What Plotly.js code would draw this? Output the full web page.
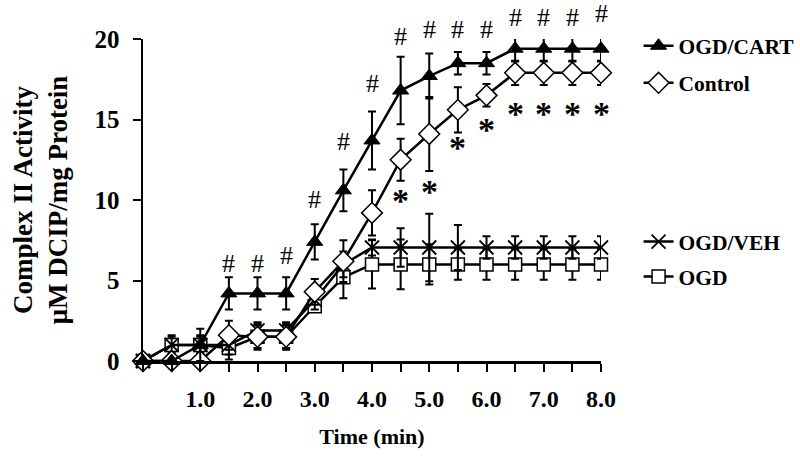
<!DOCTYPE html>
<html>
<head>
<meta charset="utf-8">
<script src="https://cdn.plot.ly/plotly-3.0.1.min.js"></script>
<style>html,body{margin:0;padding:0;background:#fff;}#chart{width:800px;height:461px;}</style>
</head>
<body>
<div id="chart"></div>
<script>
// Time points (min)
const times = [0, 0.5, 1, 1.5, 2, 2.5, 3, 3.5, 4, 4.5, 5, 5.5, 6, 6.5, 7, 7.5, 8];

// OGD/CART
const cartMean = [0, 0, 1.0, 4.2, 4.2, 4.2, 7.4, 10.6, 13.7, 16.8, 17.7, 18.5, 18.5, 19.4, 19.4, 19.4, 19.4];
const cartErr  = [0, 0, 1.0, 1.0, 1.0, 1.0, 1.1, 1.3, 1.8, 2.1, 1.4, 0.7, 0.7, 0.8, 0.8, 0.8, 0.8];

// Control
const ctrlMean = [0, 0, 0, 1.6, 1.5, 1.5, 4.3, 6.2, 9.2, 12.5, 14.1, 15.6, 16.5, 17.9, 17.9, 17.9, 17.9];
const ctrlErr  = [0, 0, 0, 0.9, 0.8, 0.8, 0.8, 1.3, 1.4, 1.3, 2.3, 1.4, 0.7, 0.75, 0.75, 0.75, 0.75];

// OGD/VEH
const vehMean = [0, 1.0, 1.0, 1.0, 1.9, 1.9, 3.8, 6.0, 7.05, 7.05, 7.05, 7.05, 7.05, 7.05, 7.05, 7.05, 7.05];
const vehErr  = [0, 0.6, 0.6, 0.6, 0.5, 0.5, 0.6, 0.8, 0.5, 1.2, 2.1, 1.4, 0.7, 0.7, 0.7, 0.7, 0.7];

// OGD
const ogdMean = [0, 1.0, 1.0, 0.8, 1.5, 1.5, 3.4, 5.2, 6.0, 6.0, 6.0, 6.0, 6.0, 6.0, 6.0, 6.0, 6.0];
const ogdErr  = [0, 0.5, 0.5, 0.7, 0.7, 0.7, 0.3, 1.3, 1.5, 1.55, 1.25, 0.95, 0.95, 0.95, 0.95, 0.95, 0.95];

// significance marks: '#' (OGD/CART) and '*' (Control), heights in data units
const hashTimes = [1.5, 2, 2.5, 3, 3.5, 4, 4.5, 5, 5.5, 6, 6.5, 7, 7.5, 8];
const hashY     = [6.0, 6.0, 6.5, 10.0, 13.55, 17.2, 20.1, 20.5, 20.5, 20.5, 21.3, 21.3, 21.3, 21.5];
const starTimes = [4.5, 5, 5.5, 6, 6.5, 7, 7.5, 8];
const starY     = [10.3, 10.85, 13.55, 14.7, 15.7, 15.7, 15.7, 15.7];

// axis ticks
const xTickVals = [0, 0.5, 1, 1.5, 2, 2.5, 3, 3.5, 4, 4.5, 5, 5.5, 6, 6.5, 7, 7.5, 8];
const xTickText = ["", "", "1.0", "", "2.0", "", "3.0", "", "4.0", "", "5.0", "", "6.0", "", "7.0", "", "8.0"];
const yTickVals = [0, 5, 10, 15, 20];
const yMax = 20;

const FONT = "Liberation Serif, Times New Roman, serif";

function errBar(arr) {
  return {type: 'data', array: arr, visible: true, color: '#000', thickness: 2, width: 4};
}

const traces = [
  {
    name: 'OGD', x: times, y: ogdMean, error_y: errBar(ogdErr),
    mode: 'lines+markers', cliponaxis: false, legend: 'legend4',
    line: {color: '#000', width: 2.5},
    marker: {symbol: 'square', size: 13, color: '#fff', line: {color: '#000', width: 1.5}}
  },
  {
    name: 'OGD/VEH', x: times, y: vehMean, error_y: errBar(vehErr),
    mode: 'lines+markers', cliponaxis: false, legend: 'legend3',
    line: {color: '#000', width: 2.5},
    marker: {symbol: 'x-thin', size: 14, color: '#000', line: {color: '#000', width: 1.8}}
  },
  {
    name: 'Control', x: times, y: ctrlMean, error_y: errBar(ctrlErr),
    mode: 'lines+markers', cliponaxis: false, legend: 'legend2',
    line: {color: '#000', width: 2.5},
    marker: {symbol: 'diamond', size: 16, color: '#fff', line: {color: '#000', width: 1.5}}
  },
  {
    name: 'OGD/CART', x: times, y: cartMean, error_y: errBar(cartErr),
    mode: 'lines+markers', cliponaxis: false, legend: 'legend',
    line: {color: '#000', width: 2.5},
    marker: {symbol: 'triangle-up', size: 14, color: '#000', line: {color: '#000', width: 1}}
  }
];

const annotations = [];
hashTimes.forEach((t, i) => annotations.push({
  x: t, y: hashY[i] / yMax, xref: 'x', yref: 'paper', text: '#', showarrow: false,
  font: {family: FONT, size: 26, color: '#000'}, yanchor: 'middle', yshift: 1
}));
starTimes.forEach((t, i) => annotations.push({
  x: t, y: starY[i] / yMax, xref: 'x', yref: 'paper', text: '*', showarrow: false,
  font: {family: FONT, size: 34, color: '#000', weight: 700}, yanchor: 'middle', yshift: -5
}));

function legendAt(y) {
  return {
    x: 1.082, xanchor: 'left', y: y, yanchor: 'middle',
    font: {family: FONT, size: 21.5, color: '#000', weight: 700},
    bgcolor: 'rgba(0,0,0,0)', borderwidth: 0, itemwidth: 30
  };
}

const layout = {
  width: 800, height: 461,
  margin: {l: 142.5, r: 199.3, t: 39.3, b: 99.5, autoexpand: false},
  paper_bgcolor: '#fff', plot_bgcolor: '#fff',
  showlegend: true,
  legend: legendAt(0.979),
  legend2: legendAt(0.864),
  legend3: legendAt(0.371),
  legend4: legendAt(0.262),
  xaxis: {
    range: [0, 8], tickmode: 'array', tickvals: xTickVals, ticktext: xTickText,
    showline: true, linecolor: '#000', linewidth: 2.5, mirror: false,
    ticks: 'outside', ticklen: 8, tickwidth: 2, tickcolor: '#000',
    showgrid: false, zeroline: false, ticklabelstandoff: 7, automargin: false,
    tickfont: {family: FONT, size: 24, color: '#000', weight: 700},
    title: {text: 'Time (min)', standoff: 18, font: {family: FONT, size: 22, color: '#000', weight: 700}}
  },
  yaxis: {
    range: [0, 20], tickmode: 'array', tickvals: yTickVals,
    showline: true, linecolor: '#000', linewidth: 2.5, automargin: false,
    ticks: 'outside', ticklen: 8, tickwidth: 2, tickcolor: '#000',
    showgrid: false, zeroline: false, ticklabelstandoff: 8,
    tickfont: {family: FONT, size: 25, color: '#000', weight: 700},
    title: {text: 'Complex II Activity<br>μM DCIP/mg Protein', standoff: 19,
            font: {family: FONT, size: 27, color: '#000', weight: 700}}
  },
  annotations: annotations
};

Plotly.newPlot('chart', traces, layout, {displayModeBar: false, staticPlot: true});
</script>
</body>
</html>
